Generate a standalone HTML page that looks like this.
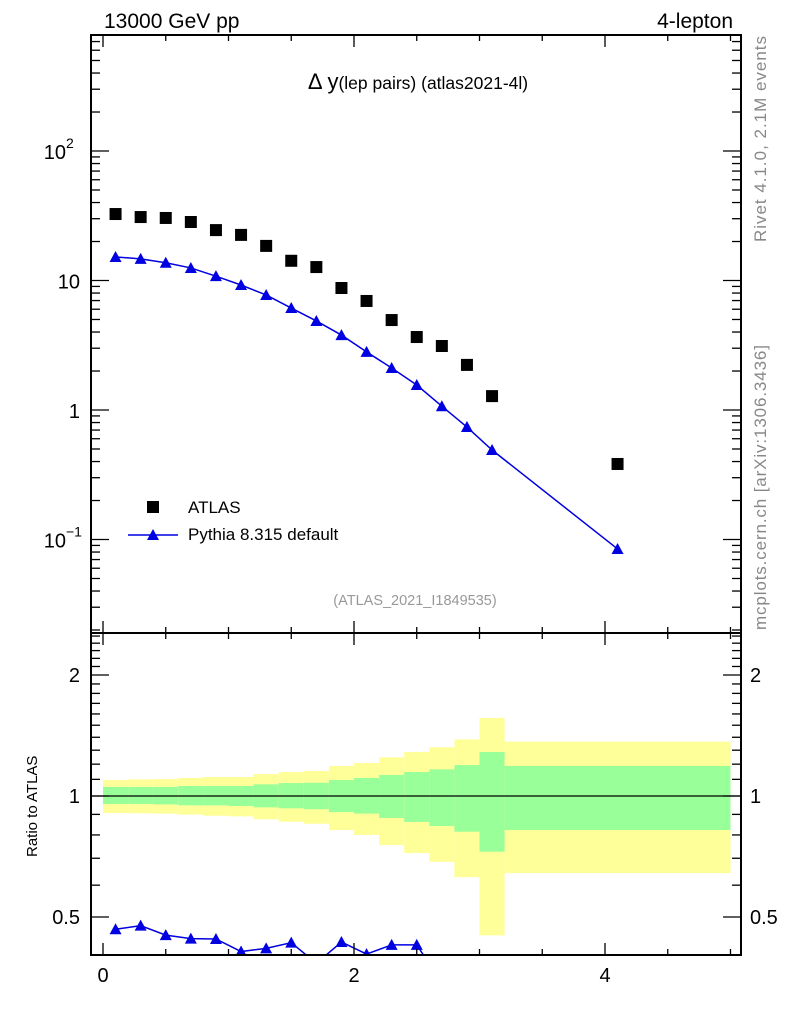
<!DOCTYPE html>
<html><head><meta charset="utf-8"><style>
body{margin:0;background:#fff;}
svg text{font-family:"Liberation Sans",Arial,sans-serif;}
</style></head><body>
<svg id="c" width="786" height="1024" xmlns="http://www.w3.org/2000/svg">
<defs>
<clipPath id="mainClip"><rect x="91" y="35" width="650" height="598"/></clipPath>
<clipPath id="ratioClip"><rect x="91" y="633" width="650" height="322"/></clipPath>
</defs>
<g id="bands" clip-path="url(#ratioClip)"></g>
<line x1="91" x2="741" y1="796" y2="796" stroke="#000" stroke-width="1.3"/>
<g id="marks"></g>
<g id="axes"></g>
<rect x="91" y="35" width="650" height="598" fill="none" stroke="#000" stroke-width="2"/>
<rect x="91" y="633" width="650" height="322" fill="none" stroke="#000" stroke-width="2"/>
<text x="104" y="28" font-size="21">13000 GeV pp</text>
<text x="733" y="28" font-size="21" text-anchor="end">4-lepton</text>
<text x="418" y="89" font-size="22" text-anchor="middle">Δ y<tspan font-size="17.5">(lep pairs) (atlas2021-4l)</tspan></text>
<text x="415" y="605" font-size="14.5" fill="#999" text-anchor="middle">(ATLAS_2021_I1849535)</text>
<rect x="147" y="501" width="12" height="12" fill="#000"/>
<text x="188" y="513" font-size="17">ATLAS</text>
<line x1="128" x2="178" y1="535" y2="535" stroke="#0000e0" stroke-width="1.5"/>
<polygon points="153,529 159,540 147,540" fill="#0000e0"/>
<text x="188" y="540" font-size="17">Pythia 8.315 default</text>
<text transform="translate(766,242) rotate(-90)" font-size="17" fill="#888" textLength="206">Rivet 4.1.0,  2.1M events</text>
<text transform="translate(766,630) rotate(-90)" font-size="17" fill="#888" textLength="285">mcplots.cern.ch [arXiv:1306.3436]</text>
<text transform="translate(37,857) rotate(-90)" font-size="15">Ratio to ATLAS</text>
</svg>
<script>
const xCenters=[0.1,0.3,0.5,0.7,0.9,1.1,1.3,1.5,1.7,1.9,2.1,2.3,2.5,2.7,2.9,3.1,4.1];
const atlasValues=[32.6,30.9,30.4,28.3,24.5,22.5,18.5,14.2,12.7,8.75,6.95,4.95,3.66,3.12,2.23,1.28,0.383];
const pythiaValues=[15.2,14.7,13.7,12.5,10.8,9.23,7.73,6.13,4.87,3.79,2.81,2.11,1.56,1.07,0.739,0.491,0.0845];
const binEdges=[0,0.2,0.4,0.6,0.8,1.0,1.2,1.4,1.6,1.8,2.0,2.2,2.4,2.6,2.8,3.0,3.2,5.0];
const yellowUp=[1.096,1.100,1.102,1.109,1.115,1.115,1.134,1.147,1.154,1.188,1.208,1.248,1.287,1.322,1.383,1.564,1.365];
const greenUp=[1.053,1.053,1.053,1.059,1.059,1.059,1.069,1.077,1.079,1.096,1.109,1.128,1.147,1.165,1.194,1.287,1.188];
const greenDn=[0.955,0.955,0.953,0.948,0.948,0.944,0.937,0.932,0.927,0.912,0.904,0.882,0.862,0.842,0.815,0.727,0.823];
const yellowDn=[0.907,0.906,0.904,0.899,0.893,0.890,0.875,0.863,0.853,0.823,0.800,0.755,0.721,0.686,0.628,0.450,0.643];
const xTickLabels=[0,2,4];
const mainTickLabels=[[100,"10","2"],[10,"10",""],[1,"1",""],[0.1,"10","−1"]];
const ratioTickLabels=[0.5,1,2];

const NS="http://www.w3.org/2000/svg";
const X=v=>103+v*125.5;
const Y=v=>410-Math.log10(v)*129.5;
const R=v=>796-Math.log2(v)*121;
function mk(tag,attrs,parent){const e=document.createElementNS(NS,tag);for(const k in attrs)e.setAttribute(k,attrs[k]);parent.appendChild(e);return e;}
const bands=document.getElementById('bands'),marks=document.getElementById('marks'),axes=document.getElementById('axes');

for(let i=0;i<yellowUp.length;i++){
  const x0=X(binEdges[i]),x1=X(binEdges[i+1]);
  const y=mk('rect',{x:x0,y:R(yellowUp[i]),width:x1-x0,height:R(yellowDn[i])-R(yellowUp[i]),fill:'#ffff99'},bands);
  
  
  const g=mk('rect',{x:x0,y:R(greenUp[i]),width:x1-x0,height:R(greenDn[i])-R(greenUp[i]),fill:'#99ff99'},bands);
  
  
}

const mg=mk('g',{'clip-path':'url(#mainClip)'},marks);
const pl=mk('polyline',{points:xCenters.map((x,i)=>X(x)+','+Y(pythiaValues[i])).join(' '),fill:'none',stroke:'#0000e0','stroke-width':1.5},mg);


xCenters.forEach((x,i)=>{
  const s=mk('rect',{x:X(x)-6,y:Y(atlasValues[i])-6,width:12,height:12,fill:'#000'},mg);
  
  
  const cx=X(x),cy=Y(pythiaValues[i]);
  const t=mk('polygon',{points:`${cx},${cy-6} ${cx+6},${cy+5} ${cx-6},${cy+5}`,fill:'#0000e0'},mg);
  
  
});
const rg=mk('g',{'clip-path':'url(#ratioClip)'},marks);
const ratios=pythiaValues.map((p,i)=>p/atlasValues[i]);
const rl=mk('polyline',{points:xCenters.map((x,i)=>X(x)+','+R(ratios[i])).join(' '),fill:'none',stroke:'#0000e0','stroke-width':1.5},rg);


xCenters.forEach((x,i)=>{
  const cx=X(x),cy=R(ratios[i]);
  const t=mk('polygon',{points:`${cx},${cy-6} ${cx+6},${cy+5} ${cx-6},${cy+5}`,fill:'#0000e0'},rg);
  
  
});

for(let v=0;v<=5.01;v+=0.5){
  const big=Math.abs(v%2)<0.01;const L=big?12:6;const x=X(v);
  [[955,-1],[633,-1],[633,1],[35,1]].forEach(([y0,d])=>{
    const l=mk('line',{x1:x,x2:x,y1:y0,y2:y0+d*L,stroke:'#000','stroke-width':1.3},axes);
    
    
  });
}
xTickLabels.forEach(v=>{
  const t=mk('text',{x:X(v),y:982,'font-size':20,'text-anchor':'middle'},axes);t.textContent=v;
  
  
});
for(let e=-2;e<=2;e++){for(let m=1;m<=9;m++){const v=m*Math.pow(10,e);const y=Y(v);if(y<35||y>633)continue;
  const L=m==1?18:9;
  [[91,1],[741,-1]].forEach(([x0,d])=>{
    const l=mk('line',{x1:x0,x2:x0+d*L,y1:y,y2:y,stroke:'#000','stroke-width':1.3},axes);
    
    
  });
}}
mainTickLabels.forEach(([v,b,s])=>{
  const t=mk('text',{x:s?66:80,y:Y(v)+8,'font-size':20,'text-anchor':'end'},axes);t.textContent=b;
  
  
  if(s){const u=mk('text',{x:66,y:Y(v)-3,'font-size':14},axes);u.textContent=s;
  
  }
});
for(let k=5;k<=25;k++){const v=k/10;const y=R(v);if(y<633||y>955)continue;
  const L=(k==5||k==10||k==20)?18:9;
  [[91,1],[741,-1]].forEach(([x0,d])=>{
    const l=mk('line',{x1:x0,x2:x0+d*L,y1:y,y2:y,stroke:'#000','stroke-width':1.3},axes);
    
    
  });
}
ratioTickLabels.forEach(v=>{
  const t=mk('text',{x:80,y:R(v)+7,'font-size':20,'text-anchor':'end'},axes);t.textContent=v;
  
  
  const t2=mk('text',{x:750,y:R(v)+7,'font-size':20},axes);t2.textContent=v;
  
  
});
</script>
</body></html>
